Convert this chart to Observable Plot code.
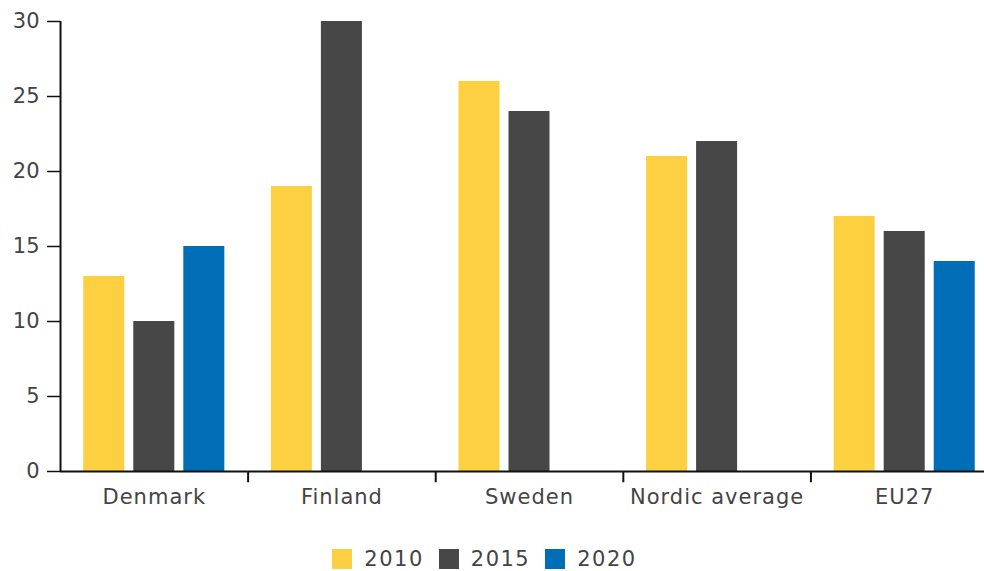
<!DOCTYPE html>
<html><head><meta charset="utf-8">
<script src="https://cdn.jsdelivr.net/npm/d3@7"></script>
<script src="https://cdn.jsdelivr.net/npm/@observablehq/plot@0.6"></script>
<style>
html,body{margin:0;padding:0;overflow:hidden;background:#fff;}
#chart{width:984px;height:520px;overflow:hidden;}
#chart svg{max-width:none !important;}
#chart [aria-label="fx-axis tick label"] text{letter-spacing:1px;}
#legend{width:984px;display:flex;justify-content:center;margin-top:22px;padding-right:0;box-sizing:border-box;}
#legend [class$="-swatch"]{margin-right:15px !important;letter-spacing:1.5px;}
#legend [class$="-swatch"] > svg{margin-right:12px !important;}
</style></head><body><div id="chart"></div><div id="legend"></div>
<script>
const groups = ["Denmark", "Finland", "Sweden", "Nordic average", "EU27"];
const years = ["2010", "2015", "2020"];
const v2010 = [13, 19, 26, 21, 17];
const v2015 = [10, 30, 24, 22, 16];
const v2020 = [15, null, null, null, 14];
const yTicks = [0, 5, 10, 15, 20, 25, 30];
const colors = ["#fdd041", "#474748", "#006eb6"];

const data = [];
[v2010, v2015, v2020].forEach((arr, j) => arr.forEach((v, i) => {
  if (v != null) data.push({group: groups[i], year: years[j], value: v});
}));

const font = "DejaVu Sans";
const plot = Plot.plot({
  width: 998, height: 520,
  marginLeft: 60, marginRight: 0, marginTop: 21, marginBottom: 49,
  style: {fontFamily: font, fontSize: "21px", color: "#444", background: "#fff", overflow: "visible", maxWidth: "none"},
  fx: {domain: groups, padding: 0, round: false, label: null, axis: null},
  x: {domain: years, axis: null, round: false, paddingInner: 0.18, paddingOuter: 0.465},
  y: {domain: [0, 30], axis: null},
  color: {domain: years, range: colors},
  marks: [
    Plot.barY(data, {fx: "group", x: "year", y: "value", fill: "year"}),
    Plot.axisY({ticks: yTicks, tickSize: 13, tickPadding: 8, label: null, fill: "#444", stroke: "#111", strokeWidth: 1.5}),
    Plot.axisFx({anchor: "bottom", tickSize: 0, tickPadding: 18, label: null, fill: "#444"}),
    Plot.ruleY([0], {stroke: "#111", strokeWidth: 2}),
    Plot.ruleX(["Denmark"], {fx: d => d, x: () => years[0], y1: 0, y2: 30, dx: -43.75, stroke: "#111", strokeWidth: 2}),
    Plot.ruleX(groups.slice(1), {fx: d => d, x: () => years[0], y1: 0, y2: -0.75, dx: -43.75, stroke: "#111", strokeWidth: 2})
  ]
});
document.getElementById("chart").appendChild(plot);
const leg = plot.legend("color", {swatchSize: 20, style: {fontFamily: font, fontSize: "21px", color: "#444"}});
document.getElementById("legend").appendChild(leg);
</script>
</body></html>
